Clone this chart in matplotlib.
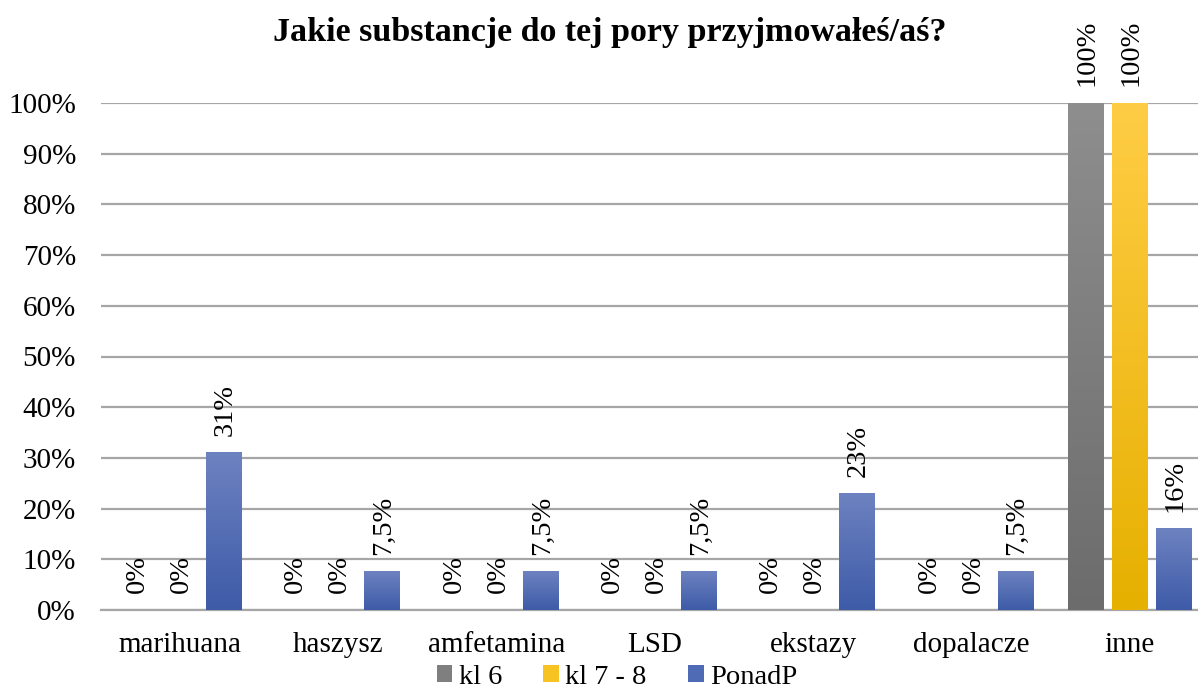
import numpy as np
import matplotlib
matplotlib.use("Agg")
import matplotlib.pyplot as plt
from matplotlib.patches import Patch
from matplotlib.colors import to_rgb

categories = ['marihuana', 'haszysz', 'amfetamina', 'LSD', 'ekstazy', 'dopalacze', 'inne']
series_names = ['kl 6', 'kl 7 - 8', 'PonadP']
kl6 = [0, 0, 0, 0, 0, 0, 100]
kl78 = [0, 0, 0, 0, 0, 0, 100]
ponadp = [31, 7.5, 7.5, 7.5, 23, 7.5, 16]
yticks = [0, 10, 20, 30, 40, 50, 60, 70, 80, 90, 100]

# gradient colours (top, bottom) for each series
grads = [('#8e8e8e', '#6c6c6c'), ('#ffcd45', '#e6b000'), ('#6d82c0', '#3e5ba8')]
solid = ['#7f7f7f', '#f6c323', '#4f6bb5']

plt.rcParams['font.family'] = ['Liberation Serif', 'DejaVu Serif']

fig = plt.figure(figsize=(11.98, 6.91), dpi=100)
ax = fig.add_axes([101/1198, 1 - 610/691, 1 - 101/1198, (610 - 103)/691])

def fmt(v):
    if float(v).is_integer():
        return f"{int(v)}%"
    return f"{v}".replace('.', ',') + "%"

def grad_bar(x, w, h, top, bot):
    if h <= 0:
        return
    t = np.linspace(0, 1, 200).reshape(-1, 1, 1)
    img = np.array(to_rgb(top)) * (1 - t) + np.array(to_rgb(bot)) * t
    ax.imshow(img, extent=(x - w / 2, x + w / 2, 0, h), origin='upper',
              aspect='auto', zorder=3, interpolation='bilinear')

x = np.arange(len(categories))
off = 0.278
w = 0.227
for i, vals in enumerate([kl6, kl78, ponadp]):
    xs = x + (i - 1) * off
    for xi, v in zip(xs, vals):
        grad_bar(xi, w, v, *grads[i])
        ax.annotate(fmt(v), (xi, v), xytext=(1, 12), textcoords='offset points',
                    rotation=90, ha='center', va='bottom', fontsize=20.5,
                    annotation_clip=False)

ax.set_xlim(-0.5, 6.43)
ax.set_ylim(0, 100)
ax.set_yticks(yticks)
ax.set_yticklabels([f"{t}%" for t in yticks])
ax.set_xticks(x)
ax.set_xticklabels(categories)
ax.tick_params(length=0, labelsize=21, pad=16)
ax.tick_params(axis='y', pad=18)
ax.yaxis.grid(True, color='#a6a6a6', linewidth=1.6, zorder=0)
ax.set_axisbelow(True)
for s in ['top', 'right', 'left']:
    ax.spines[s].set_visible(False)
ax.spines['bottom'].set_color('#a6a6a6')
ax.spines['bottom'].set_linewidth(1.6)

fig.text(0.509, 1 - 32/691, 'Jakie substancje do tej pory przyjmowałeś/aś?',
         ha='center', va='center', fontsize=24.5, fontweight='bold')

handles = [Patch(facecolor=c, edgecolor='none') for c in solid]
fig.legend(handles, series_names, loc='center', bbox_to_anchor=(0.515, 1 - 677/691),
           ncol=3, frameon=False, fontsize=20.5, handlelength=0.55, handleheight=0.55,
           handletextpad=0.22, columnspacing=1.45, borderpad=0)

fig.savefig('out.png', dpi=100)
